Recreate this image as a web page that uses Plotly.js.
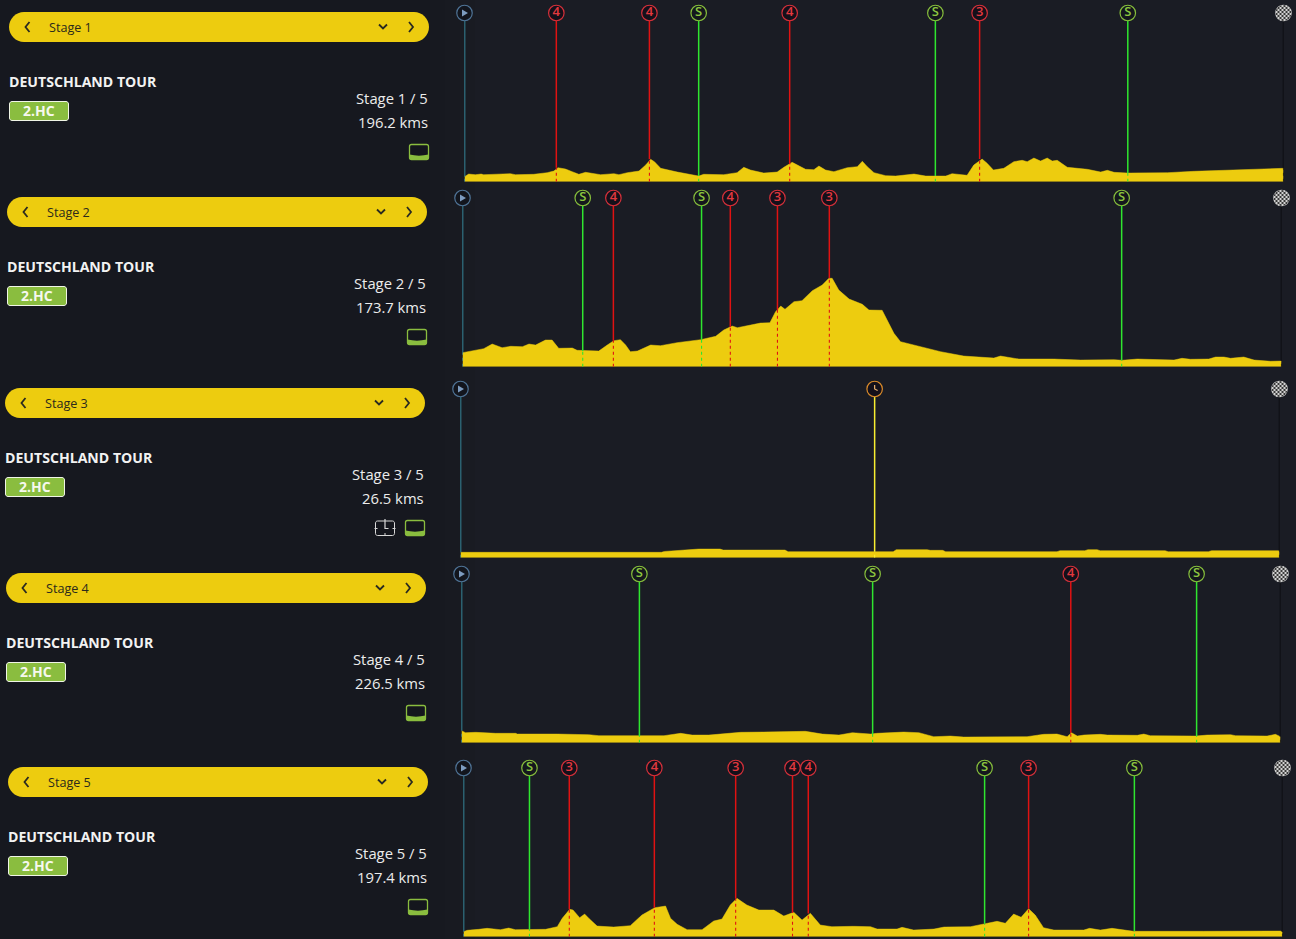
<!DOCTYPE html>
<html><head><meta charset="utf-8">
<script src="https://cdn.plot.ly/plotly-3.0.1.min.js"></script>
<style>html,body{margin:0;padding:0;background:#16181f;overflow:hidden}#c{width:1296px;height:939px}</style>
</head><body><div id="c"></div>
<script>
const raceName = 'DEUTSCHLAND TOUR';
const raceClass = '2.HC';
const stageNames = ['Stage 1','Stage 2','Stage 3','Stage 4','Stage 5'];
const stageCounts = ['Stage 1 / 5','Stage 2 / 5','Stage 3 / 5','Stage 4 / 5','Stage 5 / 5'];
const stageLengths = [196.2,173.7,26.5,226.5,197.4];
const stageLengthLabels = ['196.2 kms','173.7 kms','26.5 kms','226.5 kms','197.4 kms'];

const stage1Km = [0,1.0,2.6,4.0,4.6,7.8,11.0,12.2,16.6,19.8,21.4,22.4,24.2,25.8,27.4,29.0,30.6,32.6,35.8,37.0,39.0,41.8,43.4,44.6,45.5,47.0,51.0,56.1,57.3,62.1,65.3,66.9,68.5,71.7,74.9,76.5,78.5,80.1,81.7,83.7,84.9,86.5,88.5,91.7,94.1,95.3,96.5,98.1,100.9,103.3,107.7,110.5,115.3,116.8,118.4,120.4,122.0,124.0,125.2,126.7,129.2,131.6,133.6,134.8,136.4,138.0,139.6,140.8,142.0,144.4,149.2,152.4,154.0,155.6,158.8,163.6,168.4,174.8,181.1,185.9,190.7,195.5,196.2];
const stage1Elev = [40,61,56,61,56,59,64,56,59,72,85,112,101,80,59,75,67,56,64,56,72,85,133,179,160,107,77,45,59,56,72,115,93,69,77,115,155,128,99,96,125,93,80,112,120,163,120,72,48,45,61,45,45,64,56,51,133,181,147,93,107,160,171,160,189,165,189,165,171,115,99,77,91,75,69,72,72,83,91,93,101,109,107];
const stage1MarkerKm = [0,22.0,44.3,56.1,77.9,112.8,123.4,158.9,196.2];
const stage1MarkerElev = [40,112,179,45,140,45,181,69,107];
const stage1MarkerType = ['start','4','4','S','4','S','3','S','finish'];

const stage2Km = [0,1.7,4.5,6.3,8.4,10.2,12.7,14.1,15.5,17.6,19.0,20.4,23.3,24.3,28.9,30.7,32.1,33.5,34.6,35.6,37.1,39.9,42.0,45.5,50.5,53.7,55.4,57.2,58.3,61.1,63.2,65.2,66.4,67.5,68.4,70.3,72.0,74.2,76.3,77.7,78.4,79.8,82.0,84.8,86.2,89.0,90.1,91.5,92.9,95.7,101.4,106.3,112.7,114.1,115.9,118.0,125.4,131.1,138.2,139.9,143.1,145.2,150.9,152.6,154.4,158.3,159.7,161.5,162.9,165.7,167.9,171.4,173.7];
const stage2Elev = [112,125,144,181,152,163,160,181,173,213,213,147,149,131,125,173,208,216,173,120,125,173,168,192,216,243,293,325,312,333,349,352,440,485,459,520,528,608,653,707,707,613,541,499,453,451,373,267,200,173,120,85,69,85,72,61,61,53,56,51,61,59,53,67,59,61,77,77,67,77,53,43,45];
const stage2MarkerKm = [0,25.5,32.0,50.7,56.8,66.8,77.8,139.8,173.7];
const stage2MarkerElev = [112,125,208,216,318,455,707,51,45];
const stage2MarkerType = ['start','S','4','S','4','3','3','S','finish'];

const stage3Km = [0,6.5,6.6,7.0,7.7,8.4,8.5,10.5,10.6,14.0,14.1,15.1,15.2,15.6,15.7,19.3,19.4,20.2,20.3,20.6,20.7,22.8,22.9,24.2,24.3,26.5];
const stage3Elev = [43,43,50,56,69,69,61,61,48,48,64,64,59,59,48,48,56,56,64,64,56,56,48,48,56,56];
const stage3MarkerKm = [0,13.4,26.5];
const stage3MarkerElev = [43,48,56];
const stage3MarkerType = ['start','clock','finish'];

const stage4Km = [0,1.1,3.9,9.4,15.0,15.4,26.5,31.5,35.2,38.0,43.5,49.2,56.0,60.6,63.8,68.4,73.0,77.2,83.6,92.4,95.1,99.8,104.4,108.1,111.3,113.1,114.9,119.6,122.3,126.5,130.6,135.2,138.9,156.4,161.0,164.7,167.5,168.7,170.3,172.1,176.7,178.6,184.1,186.9,188.7,190.5,203.0,206.2,212.7,214.1,222.8,225.1,226.5];
const stage4Elev = [96,80,83,75,75,69,69,69,64,56,56,53,56,75,61,61,75,83,85,85,91,69,61,80,75,69,75,83,85,80,48,53,45,48,67,69,48,80,53,61,67,61,61,59,69,56,53,61,64,56,53,67,48];
const stage4MarkerKm = [0,49.2,113.7,168.5,203.3,226.5];
const stage4MarkerElev = [96,53,69,78,53,48];
const stage4MarkerType = ['start','S','S','4','S','finish'];

const stage5Km = [0,0.9,3.7,5.7,8.9,10.9,12.5,19.8,22.6,23.8,25.6,26.4,28.0,29.2,30.2,32.2,36.2,40.2,43.0,46.1,48.7,49.9,51.5,53.9,57.5,60.3,62.3,64.3,65.9,68.3,71.2,74.8,77.2,79.6,81.6,83.6,86.0,88.8,94.0,98.1,99.7,104.5,105.7,108.5,113.4,115.8,122.2,125.8,128.6,130.6,132.6,134.4,136.2,137.8,139.8,142.3,149.5,150.9,153.5,156.3,161.5,178.4,196.9,197.4];
const stage5Elev = [40,51,59,67,56,69,56,59,80,147,219,213,152,181,147,85,77,88,173,232,245,147,99,56,56,125,141,253,307,253,213,213,165,195,133,187,93,80,83,80,61,61,75,53,61,77,80,107,123,107,181,155,224,173,72,53,53,67,53,67,43,43,45,37];
const stage5MarkerKm = [0,15.9,25.5,46.0,65.6,79.3,83.1,125.6,136.2,161.7,197.4];
const stage5MarkerElev = [40,59,219,232,307,190,185,105,224,43,37];
const stage5MarkerType = ['start','S','3','4','3','4','4','S','3','S','finish'];

const profilesKm = [stage1Km,stage2Km,stage3Km,stage4Km,stage5Km];
const profilesElev = [stage1Elev,stage2Elev,stage3Elev,stage4Elev,stage5Elev];
const markersKm = [stage1MarkerKm,stage2MarkerKm,stage3MarkerKm,stage4MarkerKm,stage5MarkerKm];
const markersElev = [stage1MarkerElev,stage2MarkerElev,stage3MarkerElev,stage4MarkerElev,stage5MarkerElev];
const markersType = [stage1MarkerType,stage2MarkerType,stage3MarkerType,stage4MarkerType,stage5MarkerType];

// page layout
const W=1296,H=939;
const leftX=[9,7,5,6,8];
const circleY=[13,198,389,574,768];
const baseY=[181.7,366.7,557.7,742.7,936.7];
const PX_M=8, chartW=819, chartOffset=455.5;

const style={
  start:{line:'#3fa5bb',stroke:'#4f7396',fill:'#12151d',text:'#fff'},
  S:{line:'#2fe62f',stroke:'#86bd3c',fill:'#14171d',text:'#8cc63f'},
  '4':{line:'#e01212',stroke:'#d4303a',fill:'#14101a',text:'#e0393f'},
  '3':{line:'#e01212',stroke:'#d4303a',fill:'#14101a',text:'#e0393f'},
  clock:{line:'#f8ee30',stroke:'#d98a2a',fill:'#14101a',text:'#e08f2a'},
  finish:{line:'#08090c',stroke:'#b9b9b9',fill:'#b9b9b9',text:'#fff'}
};

const data=[],shapes=[],annotations=[],images=[];
const layout={width:W,height:H,margin:{l:0,r:0,t:0,b:0},paper_bgcolor:'#16181f',plot_bgcolor:'rgba(0,0,0,0)',showlegend:false,hovermode:false,shapes,annotations,images,
  xaxis6:{domain:[0,1],range:[0,W],visible:false,fixedrange:true},
  yaxis6:{domain:[0,1],range:[H,0],visible:false,fixedrange:true}};
const page={xref:'x6',yref:'y6'};

function pill(x,y,w,h,r,k=0.55){const c=r*(1-k);
  return `M${x+r},${y} L${x+w-r},${y} C${x+w-c},${y} ${x+w},${y+c} ${x+w},${y+r} L${x+w},${y+h-r} C${x+w},${y+h-c} ${x+w-c},${y+h} ${x+w-r},${y+h} L${x+r},${y+h} C${x+c},${y+h} ${x},${y+h-c} ${x},${y+h-r} L${x},${y+r} C${x},${y+c} ${x+c},${y} ${x+r},${y} Z`;}
function addPath(path,opt){shapes.push(Object.assign({type:'path',path,line:{width:0},layer:'above'},page,opt));}
function addText(text,x,y,size,color,anchor,bold){annotations.push(Object.assign({text:bold?`<b>${text}</b>`:text,x,y,xanchor:anchor,yanchor:'middle',showarrow:false,align:anchor,font:{family:'"Open Sans",sans-serif',size,color}},page));}

// backgrounds (paper referenced so they stay beneath every subplot)
[[0,430,'#16181f'],[430,445,'#171920'],[445,460,'#181a21'],[460,475,'#191b22'],[475,W,'#1a1c24']].forEach(([a,b,c])=>{
  shapes.push({type:'rect',xref:'paper',yref:'paper',x0:a/W,x1:b/W,y0:0,y1:1,fillcolor:c,line:{width:0},layer:'below'});
});

stageNames.forEach((name,i)=>{
  const x0=leftX[i],cy=circleY[i],b=baseY[i],n=i+1;
  const cx0=x0+chartOffset;
  const topPx=cy-8, maxElev=(b-topPx)*PX_M, markerElev=(b-cy)*PX_M;
  layout['xaxis'+(n==1?'':n)]={domain:[cx0/W,(cx0+chartW)/W],range:[0,stageLengths[i]],visible:false,fixedrange:true,anchor:'y'+(n==1?'':n)};
  layout['yaxis'+(n==1?'':n)]={domain:[1-b/H,1-topPx/H],range:[0,maxElev],visible:false,fixedrange:true,anchor:'x'+(n==1?'':n)};
  const xa='x'+(n==1?'':n), ya='y'+(n==1?'':n);
  // profile
  data.push({type:'scatter',mode:'lines',x:profilesKm[i],y:profilesElev[i],xaxis:xa,yaxis:ya,fill:'tozeroy',fillcolor:'#edcc0f',line:{color:'#edcc0f',width:0.5},cliponaxis:false});
  // vertical lines
  const kinds=[...new Set(markersType[i].map(t=>style[t].line))];
  kinds.forEach(col=>{
    const sx=[],sy=[],dx=[],dy=[];
    markersType[i].forEach((t,j)=>{ if(style[t].line!==col) return;
      const k=markersKm[i][j],e=markersElev[i][j];
      sx.push(k,k,null);sy.push(e,markerElev,null);
      dx.push(k,k,null);dy.push(0,e,null);
    });
    data.push({type:'scatter',mode:'lines',x:sx,y:sy,xaxis:xa,yaxis:ya,line:{color:col,width:1.5},cliponaxis:false});
    data.push({type:'scatter',mode:'lines',x:dx,y:dy,xaxis:xa,yaxis:ya,line:{color:col,width:1.1,dash:'3px,3px'},cliponaxis:false});
  });
  // circles
  const types=markersType[i];
  data.push({type:'scatter',mode:'markers+text',x:markersKm[i],y:types.map(()=>markerElev),xaxis:xa,yaxis:ya,cliponaxis:false,
    text:types.map(t=>(t==='start'||t==='finish'||t==='clock')?'':t),textposition:'middle center',
    textfont:{family:'"Open Sans",sans-serif',size:13,weight:600,color:types.map(t=>style[t].text)},
    marker:{symbol:'circle',size:15.5,color:types.map(t=>style[t].fill),line:{width:1.2,color:types.map(t=>style[t].stroke)}}});
  // start icon, clock icon, finish image
  const px=k=>cx0+k/stageLengths[i]*chartW;
  types.forEach((t,j)=>{const cx=px(markersKm[i][j]);
    if(t==='start') addPath(`M${cx-2.5},${cy-3.5} L${cx+3.5},${cy} L${cx-2.5},${cy+3.5} Z`,{fillcolor:'#7d9cc0'});
    if(t==='clock') addPath(`M${cx},${cy-4} L${cx},${cy} L${cx+3},${cy+1.5}`,{line:{color:'#e8b070',width:1.2}});
    if(t==='finish'){
      const svg=`<svg xmlns="http://www.w3.org/2000/svg" width="16" height="16"><defs><pattern id="p" width="4" height="4" patternUnits="userSpaceOnUse"><rect width="4" height="4" fill="#d2d2d2"/><rect width="2" height="2" fill="#3a3a3a"/><rect x="2" y="2" width="2" height="2" fill="#3a3a3a"/></pattern></defs><circle cx="8" cy="8" r="8" fill="url(#p)"/></svg>`;
      images.push(Object.assign({source:'data:image/svg+xml;utf8,'+encodeURIComponent(svg),x:cx-8,y:cy-8,sizex:16,sizey:16,xanchor:'left',yanchor:'top',sizing:'stretch',layer:'above'},page));
    }
  });
  // stage selector
  const by=cy-1;
  addPath(pill(x0,by,420,30,15),{fillcolor:'#edcc0f'});
  const chev=(d,c)=>addPath(d,{line:{color:c,width:1.8}});
  chev(`M${x0+20.5},${by+10} L${x0+16.5},${by+15} L${x0+20.5},${by+20}`,'#2a2a20');
  chev(`M${x0+370},${by+12.5} L${x0+374},${by+16.5} L${x0+378},${by+12.5}`,'#2a2a20');
  chev(`M${x0+400},${by+10} L${x0+404},${by+15} L${x0+400},${by+20}`,'#2a2a20');
  addText(name,x0+37.5,by+15.3,12.6,'#2b2a1c','left');
  // race info
  addText(raceName,x0-2,cy+68,14.1,'#f2f2f2','left',true);
  addPath(pill(x0+0.5,cy+88.5,59,19,2.5),{fillcolor:'#8abd3f',line:{color:'#f0f5e6',width:1}});
  addText(raceClass,x0+30,cy+97.6,14,'#f6f8ee','center',true);
  addText(stageCounts[i],x0+421,cy+85,14.8,'#ececec','right');
  addText(stageLengthLabels[i],x0+421,cy+109,14.8,'#ececec','right');
  // terrain icon
  const ix=x0+400.5,iy=cy+131.5;
  addPath(pill(ix,iy,19,15,2),{fillcolor:'#14161d',line:{color:'#8abd3f',width:1.3}});
  addPath(`M${ix},${iy+10} C${ix+6},${iy+11.5} ${ix+13},${iy+11.5} ${ix+19},${iy+10} L${ix+19},${iy+13} C${ix+19},${iy+14.5} ${ix+18},${iy+15} ${ix+17},${iy+15} L${ix+2},${iy+15} C${ix+1},${iy+15} ${ix},${iy+14.5} ${ix},${iy+13} Z`,{fillcolor:'#8abd3f'});
  if(types.includes('clock')){
    const tx=x0+370.5,ty=cy+132;
    addPath(pill(tx,ty,19,14.5,2),{fillcolor:'#14161d',line:{color:'#d8d8d8',width:1}});
    addPath(`M${tx+9.5},${ty-2} L${tx+9.5},${ty+7.5} L${tx+13},${ty+7.5}`,{line:{color:'#d8d8d8',width:1.2}});
    addPath(`M${tx-1},${ty+7.5} L${tx+2},${ty+7.5} M${tx+17},${ty+7.5} L${tx+20},${ty+7.5} M${tx+9.5},${ty+12} L${tx+9.5},${ty+15}`,{line:{color:'#d8d8d8',width:1}});
  }
});
// invisible trace so that the page axes exist
data.push({type:'scatter',mode:'markers',x:[0],y:[0],xaxis:'x6',yaxis:'y6',marker:{size:1,opacity:0},cliponaxis:true});
Plotly.newPlot('c',data,layout,{displayModeBar:false,staticPlot:true});
</script></body></html>
